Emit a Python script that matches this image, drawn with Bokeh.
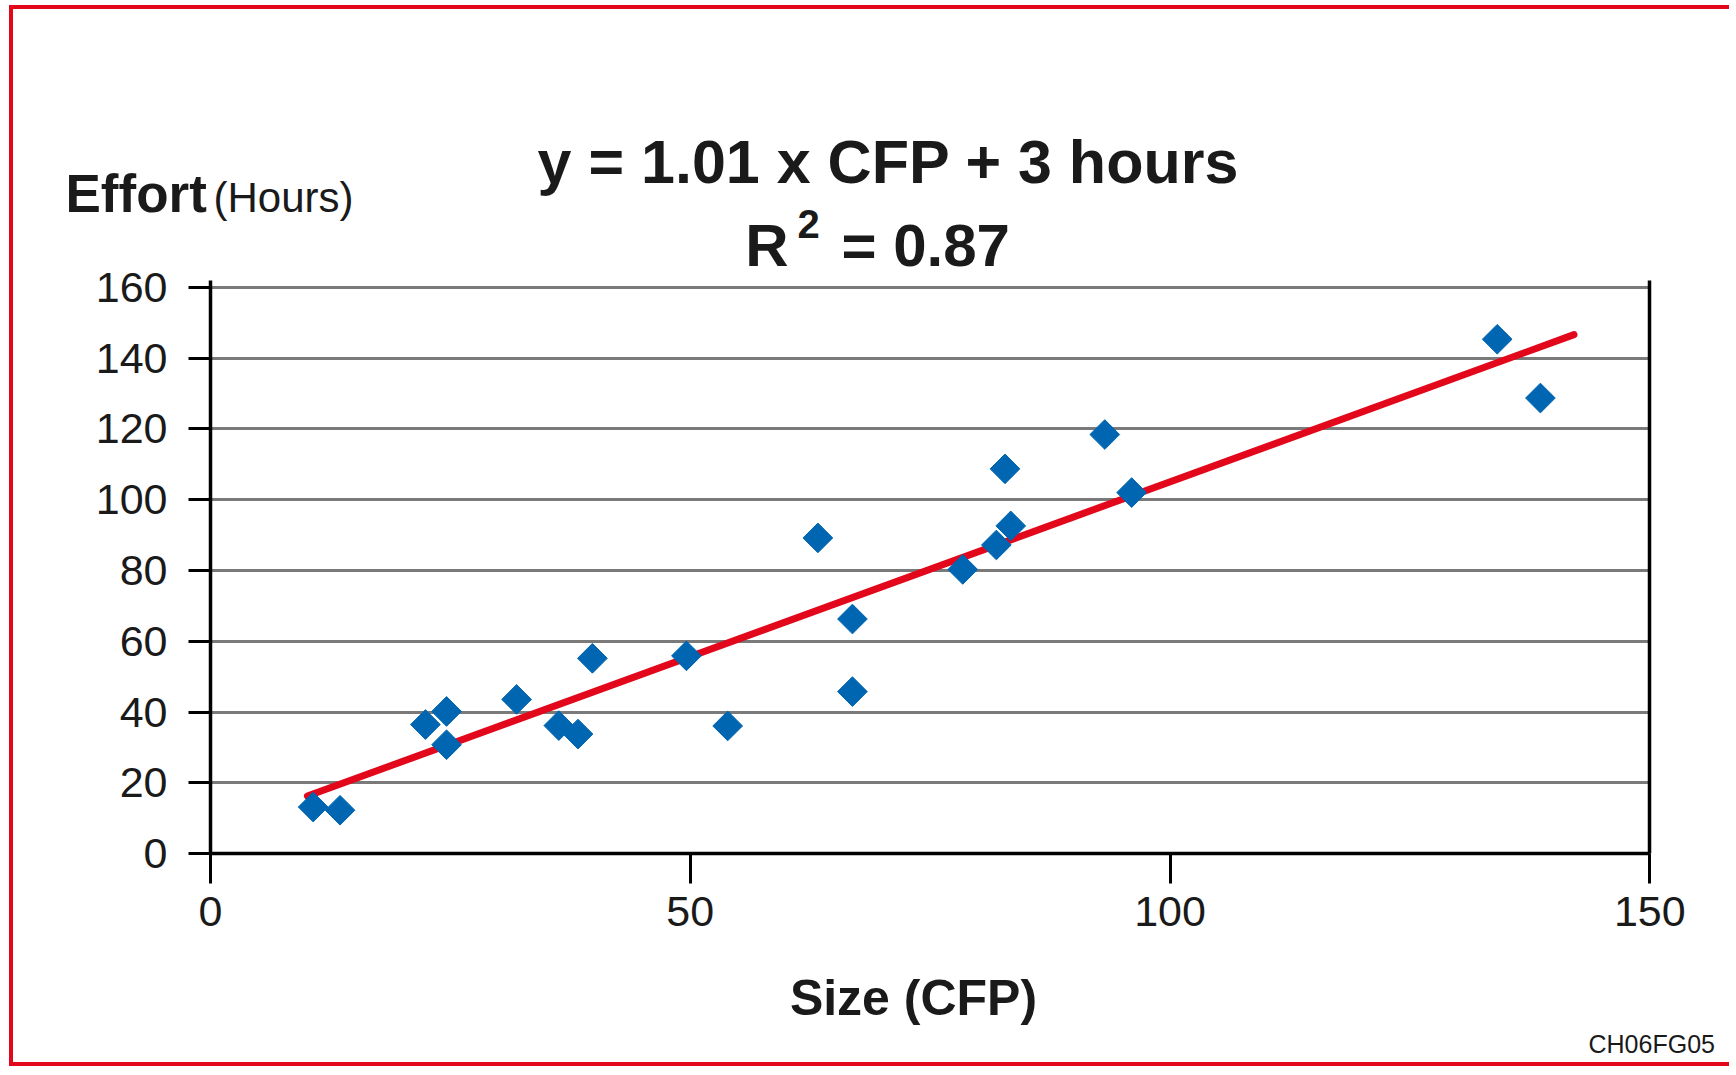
from bokeh.plotting import figure
from bokeh.models import Range1d, FixedTicker, LinearAxis, Label
from bokeh.embed import file_html
from bokeh.resources import INLINE

# ---- data ----
size_cfp = [10.7, 13.5, 22.4, 24.6, 24.6, 31.9, 36.3, 38.3, 39.8, 49.6, 53.9,
            63.3, 66.9, 66.9, 78.4, 81.9, 82.8, 83.4, 93.2, 96.0, 134.1, 138.6]
effort_hours = [13.2, 12.3, 36.5, 40.2, 30.8, 43.6, 36.2, 33.8, 55.2, 55.9, 36.1,
                89.2, 66.3, 45.8, 80.3, 87.2, 108.7, 92.6, 118.4, 102.0, 145.3, 128.7]
fit_x = [10.1, 142.1]
fit_y = [16.3, 146.6]
x_ticks = [0, 50, 100, 150]
y_ticks = [0, 20, 40, 60, 80, 100, 120, 140, 160]

title_line1 = "y = 1.01 x CFP + 3 hours"
r2_base = "R"
r2_sup = "2"
r2_rest = "= 0.87"
y_title_main = "Effort"
y_title_unit = "(Hours)"
x_title = "Size (CFP)"
fig_code = "CH06FG05"

# ---- layout (page pixels) ----
W, H = 1720, 1061
ORIGIN_X, ORIGIN_Y = 13, 9          # canvas top-left on the page
FRAME_X0, FRAME_X150 = 210.0, 1649.3  # page x of data x=0 / x=150
FRAME_Y0, FRAME_Y160 = 853.3, 286.7   # page y of data y=0 / y=160
ppx = (FRAME_X150 - FRAME_X0) / 150.0
ppy = (FRAME_Y0 - FRAME_Y160) / 160.0
x_start = (ORIGIN_X - FRAME_X0) / ppx
x_end = (ORIGIN_X + W - FRAME_X0) / ppx
y_end = (FRAME_Y0 - ORIGIN_Y) / ppy
y_start = (FRAME_Y0 - (ORIGIN_Y + H)) / ppy

FONT = "Liberation Sans"
RED = "#e2071a"
BLUE = "#0066b2"
GRID = "#7a7a7a"
INK = "#1a1a1a"

p = figure(width=W, height=H, output_backend="svg", toolbar_location=None,
           x_range=Range1d(x_start, x_end), y_range=Range1d(y_start, y_end),
           min_border=0, min_border_left=0, min_border_right=0,
           min_border_top=0, min_border_bottom=0)
p.outline_line_color = None
p.background_fill_color = "white"
p.border_fill_color = "white"
p.styles = {"margin-left": "9px", "margin-top": "5px",
            "border-left": f"4px solid {RED}", "border-top": f"4px solid {RED}",
            "border-bottom": f"4px solid {RED}", "border-right": "0px none"}

for ax in (p.xaxis[0], p.yaxis[0]):
    ax.fixed_location = 0
    ax.axis_line_color = "black"
    ax.axis_line_width = 3.5
    ax.major_tick_line_color = "black"
    ax.major_tick_line_width = 3
    ax.major_tick_in = 0
    ax.minor_tick_line_color = None
    ax.major_label_text_font = FONT
    ax.major_label_text_font_size = "43px"
    ax.major_label_text_color = INK

p.xaxis.ticker = FixedTicker(ticks=x_ticks)
p.yaxis.ticker = FixedTicker(ticks=y_ticks)
p.xaxis.bounds = (0, 150)
p.yaxis.bounds = (0, 162)
p.xaxis.major_tick_out = 30
p.yaxis.major_tick_out = 22
p.xaxis.major_label_standoff = 13
p.yaxis.major_label_standoff = 21

right = LinearAxis(ticker=FixedTicker(ticks=[]), fixed_location=150, bounds=(0, 162),
                   axis_line_width=3.5, axis_line_color="black",
                   major_tick_line_color=None, minor_tick_line_color=None)
p.add_layout(right, "right")

p.xgrid.grid_line_color = None
p.ygrid.grid_line_color = GRID
p.ygrid.grid_line_width = 3
p.ygrid.cross_bounds = (0, 150)

p.line(fit_x, fit_y, line_color=RED, line_width=7, line_cap="round")
p.scatter(size_cfp, effort_hours, marker="square", angle=0.785398, size=21,
          fill_color=BLUE, line_color=BLUE)


def lab(page_x, page_y, text, size, align="left", style="normal"):
    # page_y is the wanted baseline; compensate the label's own baseline offset
    fs = float(size[:-2])
    page_y = page_y - 0.375 * fs
    p.add_layout(Label(x=page_x - ORIGIN_X, y=ORIGIN_Y + H - page_y,
                       x_units="screen", y_units="screen", text=text,
                       text_font=FONT, text_font_size=size, text_align=align,
                       text_font_style=style,
                       text_baseline="alphabetic", text_color=INK))


lab(888, 184, title_line1, "61px", "center", "bold")
lab(788, 267, r2_base, "60px", "right", "bold")
lab(797, 238, r2_sup, "40px", "left", "bold")
lab(841, 267, r2_rest, "60px", "left", "bold")
lab(65, 213, y_title_main, "53px", "left", "bold")
lab(213, 213, y_title_unit, "42px", "left")
lab(913, 1016, x_title, "50px", "center", "bold")
lab(1588, 1053, fig_code, "25px", "left")

open("out.html", "w").write(file_html(p, INLINE))
